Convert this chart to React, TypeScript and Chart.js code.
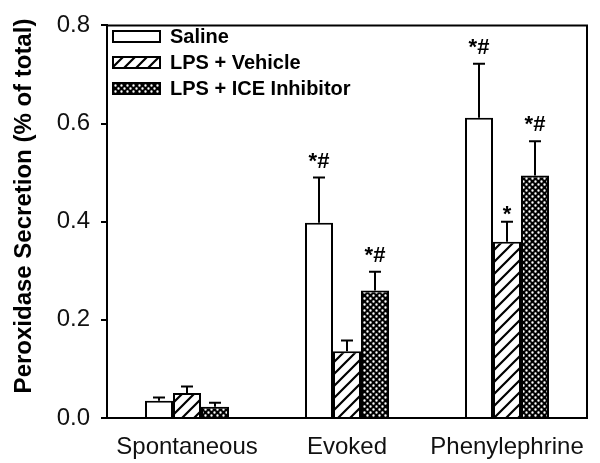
import React, { useEffect, useRef } from "react";
import { Chart, registerables } from "chart.js";

Chart.register(...registerables);

const categories = ["Spontaneous", "Evoked", "Phenylephrine"];
const seriesLabels = ["Saline", "LPS + Vehicle", "LPS + ICE Inhibitor"];
const salineValues = [0.035, 0.398, 0.612];
const salineErrors = [0.007, 0.092, 0.11];
const vehicleValues = [0.051, 0.136, 0.359];
const vehicleErrors = [0.013, 0.022, 0.041];
const iceValues = [0.023, 0.26, 0.494];
const iceErrors = [0.008, 0.038, 0.07];
const salineMarks = ["", "*#", "*#"];
const vehicleMarks = ["", "", "*"];
const iceMarks = ["", "*#", "*#"];
const yTitle = "Peroxidase Secretion (% of total)";

const FONT = "'Liberation Sans', Arial, Helvetica, sans-serif";

function makeHatch(): CanvasPattern | string {
  const c = document.createElement("canvas");
  const s = 12;
  c.width = s;
  c.height = s;
  const g = c.getContext("2d");
  if (!g) return "#fff";
  g.fillStyle = "#fff";
  g.fillRect(0, 0, s, s);
  g.strokeStyle = "#000";
  g.lineWidth = 2.2;
  g.beginPath();
  g.moveTo(-2, s + 2);
  g.lineTo(s + 2, -2);
  g.moveTo(-2, 2);
  g.lineTo(2, -2);
  g.moveTo(s - 2, s + 2);
  g.lineTo(s + 2, s - 2);
  g.stroke();
  return g.createPattern(c, "repeat") || "#fff";
}

function makeDots(): CanvasPattern | string {
  const c = document.createElement("canvas");
  const s = 6;
  c.width = s;
  c.height = s;
  const g = c.getContext("2d");
  if (!g) return "#000";
  g.fillStyle = "#000";
  g.fillRect(0, 0, s, s);
  g.fillStyle = "#fff";
  g.beginPath();
  g.arc(1.5, 1.5, 1.2, 0, Math.PI * 2);
  g.arc(4.5, 4.5, 1.2, 0, Math.PI * 2);
  g.fill();
  return g.createPattern(c, "repeat") || "#000";
}

const overlayPlugin = {
  id: "overlay",
  afterDatasetsDraw(chart: any) {
    const ctx = chart.ctx as CanvasRenderingContext2D;
    const yScale = chart.scales.y;
    const area = chart.chartArea;
    chart.data.datasets.forEach((ds: any, i: number) => {
      const meta = chart.getDatasetMeta(i);
      meta.data.forEach((bar: any, j: number) => {
        const v = ds.data[j];
        const e = ds.errors[j];
        const yBar = yScale.getPixelForValue(v);
        const yTop = yScale.getPixelForValue(v + e);
        ctx.save();
        ctx.strokeStyle = "#000";
        ctx.lineWidth = 2;
        ctx.beginPath();
        ctx.moveTo(bar.x, yBar);
        ctx.lineTo(bar.x, yTop);
        ctx.moveTo(bar.x - 6, yTop);
        ctx.lineTo(bar.x + 6, yTop);
        ctx.stroke();
        const m = ds.marks[j];
        if (m) {
          ctx.fillStyle = "#000";
          ctx.font = `bold 22px ${FONT}`;
          ctx.textAlign = "center";
          ctx.textBaseline = "alphabetic";
          const gap = m.includes("#") ? 10 : 1;
          ctx.fillText(m, bar.x, yTop - gap);
        }
        ctx.restore();
      });
    });
    // frame top and right
    ctx.save();
    ctx.strokeStyle = "#000";
    ctx.lineWidth = 2;
    ctx.beginPath();
    ctx.moveTo(area.left - 1, area.top);
    ctx.lineTo(area.right, area.top);
    ctx.lineTo(area.right, area.bottom + 1);
    ctx.stroke();
    ctx.restore();
    // legend
    ctx.save();
    chart.data.datasets.forEach((ds: any, i: number) => {
      const cy = 36.5 + i * 26;
      ctx.fillStyle = ds.backgroundColor;
      ctx.fillRect(113, cy - 5.5, 47, 11);
      ctx.strokeStyle = "#000";
      ctx.lineWidth = 2;
      ctx.strokeRect(113, cy - 5.5, 47, 11);
      ctx.fillStyle = "#000";
      ctx.font = `bold 20px ${FONT}`;
      ctx.textAlign = "left";
      ctx.textBaseline = "middle";
      ctx.fillText(ds.label, 170, cy + 1);
    });
    // y title
    ctx.translate(24, 206);
    ctx.rotate(-Math.PI / 2);
    ctx.fillStyle = "#000";
    ctx.font = `bold 24px ${FONT}`;
    ctx.textAlign = "center";
    ctx.textBaseline = "middle";
    ctx.fillText(yTitle, 0, 0);
    ctx.restore();
  },
};

export default function App() {
  const ref = useRef<HTMLCanvasElement | null>(null);
  useEffect(() => {
    if (!ref.current) return;
    const chart = new Chart(ref.current, {
      type: "bar",
      data: {
        labels: categories,
        datasets: [
          {
            label: seriesLabels[0],
            data: salineValues,
            errors: salineErrors,
            marks: salineMarks,
            backgroundColor: "#fff",
            borderColor: "#000",
            borderWidth: 2,
          } as any,
          {
            label: seriesLabels[1],
            data: vehicleValues,
            errors: vehicleErrors,
            marks: vehicleMarks,
            backgroundColor: makeHatch(),
            borderColor: "#000",
            borderWidth: 2,
          } as any,
          {
            label: seriesLabels[2],
            data: iceValues,
            errors: iceErrors,
            marks: iceMarks,
            backgroundColor: makeDots(),
            borderColor: "#000",
            borderWidth: 2,
          } as any,
        ],
      },
      options: {
        animation: false,
        responsive: true,
        maintainAspectRatio: false,
        layout: { padding: { left: 0, right: 13, top: 18, bottom: 0 } },
        datasets: { bar: { categoryPercentage: 0.525, barPercentage: 1 } },
        plugins: { legend: { display: false }, tooltip: { enabled: false } },
        scales: {
          x: {
            grid: { display: false },
            border: { display: true, color: "#000", width: 2 },
            ticks: { color: "#111", padding: 7, font: { size: 24, family: FONT } },
            afterFit: (s: any) => {
              s.height = 45;
            },
          },
          y: {
            min: 0,
            max: 0.8,
            grid: { drawOnChartArea: false, drawTicks: true, tickLength: 6, color: "#000", lineWidth: 2 },
            border: { display: true, color: "#000", width: 2 },
            ticks: {
              stepSize: 0.2,
              color: "#111",
              padding: 11,
              font: { size: 24, family: FONT },
              callback: (v: any) => Number(v).toFixed(1),
            },
            afterFit: (s: any) => {
              s.width = 107;
            },
          },
        },
      },
      plugins: [overlayPlugin],
    });
    return () => chart.destroy();
  }, []);
  return (
    <div style={{ position: "fixed", left: 0, top: 0, width: 600, height: 463, background: "#fff" }}>
      <canvas ref={ref} />
    </div>
  );
}
